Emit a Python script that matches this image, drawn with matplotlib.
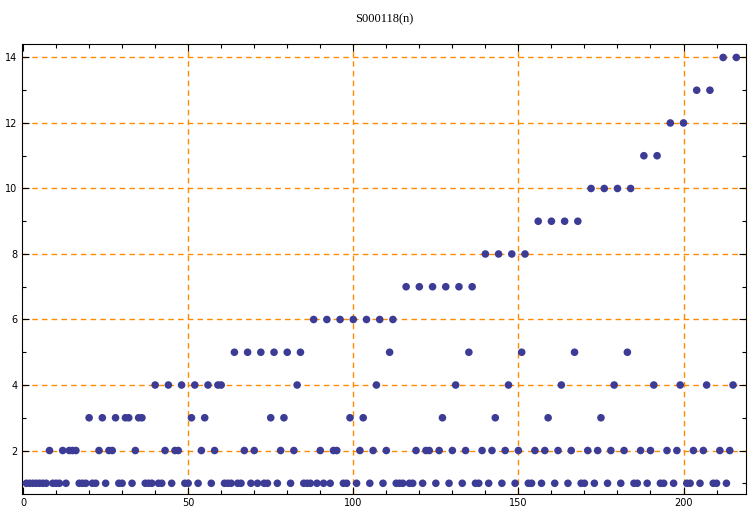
import matplotlib
matplotlib.use("Agg")
import matplotlib.pyplot as plt
from matplotlib.ticker import MultipleLocator

# values, n = 1..216
n_values = list(range(1, 217))
s_values = [
    1, 1, 1, 1, 1, 1, 1, 2, 1, 1,      # 1-10
    1, 2, 1, 2, 2, 2, 1, 1, 1, 3,      # 11-20
    1, 1, 2, 3, 1, 2, 2, 3, 1, 1,      # 21-30
    3, 3, 1, 2, 3, 3, 1, 1, 1, 4,      # 31-40
    1, 1, 2, 4, 1, 2, 2, 4, 1, 1,      # 41-50
    3, 4, 1, 2, 3, 4, 1, 2, 4, 4,      # 51-60
    1, 1, 1, 5, 1, 1, 2, 5, 1, 2,      # 61-70
    1, 5, 1, 1, 3, 5, 1, 2, 3, 5,      # 71-80
    1, 2, 4, 5, 1, 1, 1, 6, 1, 2,      # 81-90
    1, 6, 1, 2, 2, 6, 1, 1, 3, 6,      # 91-100
    1, 2, 3, 6, 1, 2, 4, 6, 1, 2,      # 101-110
    5, 6, 1, 1, 1, 7, 1, 1, 2, 7,      # 111-120
    1, 2, 2, 7, 1, 2, 3, 7, 1, 2,      # 121-130
    4, 7, 1, 2, 5, 7, 1, 1, 2, 8,      # 131-140
    1, 2, 3, 8, 1, 2, 4, 8, 1, 2,      # 141-150
    5, 8, 1, 1, 2, 9, 1, 2, 3, 9,      # 151-160
    1, 2, 4, 9, 1, 2, 5, 9, 1, 1,      # 161-170
    2, 10, 1, 2, 3, 10, 1, 2, 4, 10,   # 171-180
    1, 2, 5, 10, 1, 1, 2, 11, 1, 2,    # 181-190
    4, 11, 1, 1, 2, 12, 1, 2, 4, 12,   # 191-200
    1, 1, 2, 13, 1, 2, 4, 13, 1, 1,    # 201-210
    2, 14, 1, 2, 4, 14,                # 211-216
]

x_major = [0, 50, 100, 150, 200]
y_major = [2, 4, 6, 8, 10, 12, 14]
title = "S000118(n)"

dot_color = "#3c3c96"
grid_color = "#ff8c00"

fig = plt.figure(figsize=(7.5, 5.12), dpi=100)
ax = fig.add_axes([0.029, 0.035, 0.966, 0.879])

ax.scatter(n_values, s_values, s=30, color=dot_color, edgecolors="none", zorder=3)

ax.set_xlim(-0.4, 219)
ax.set_ylim(0.67, 14.41)

ax.xaxis.set_major_locator(MultipleLocator(50))
ax.xaxis.set_minor_locator(MultipleLocator(10))
ax.yaxis.set_major_locator(MultipleLocator(2))
ax.yaxis.set_minor_locator(MultipleLocator(1))
ax.tick_params(which="both", direction="in", top=True, right=True,
               labelsize=7, pad=3, width=0.8)
ax.tick_params(which="major", length=5)
ax.tick_params(which="minor", length=3)
for lab in ax.get_xticklabels() + ax.get_yticklabels():
    lab.set_fontfamily("DejaVu Sans")

# orange dashed grid lines
for xv in x_major[1:]:
    ax.axvline(xv, color=grid_color, lw=1, ls=(0, (4, 3)), zorder=1)
for yv in y_major:
    ax.axhline(yv, color=grid_color, lw=1, ls=(0, (4, 3)), zorder=1)

for sp in ax.spines.values():
    sp.set_linewidth(0.8)

fig.text(0.513, 0.962, title, ha="center", va="center",
         fontsize=9, family="Liberation Serif")

fig.savefig("out.png", dpi=100)
